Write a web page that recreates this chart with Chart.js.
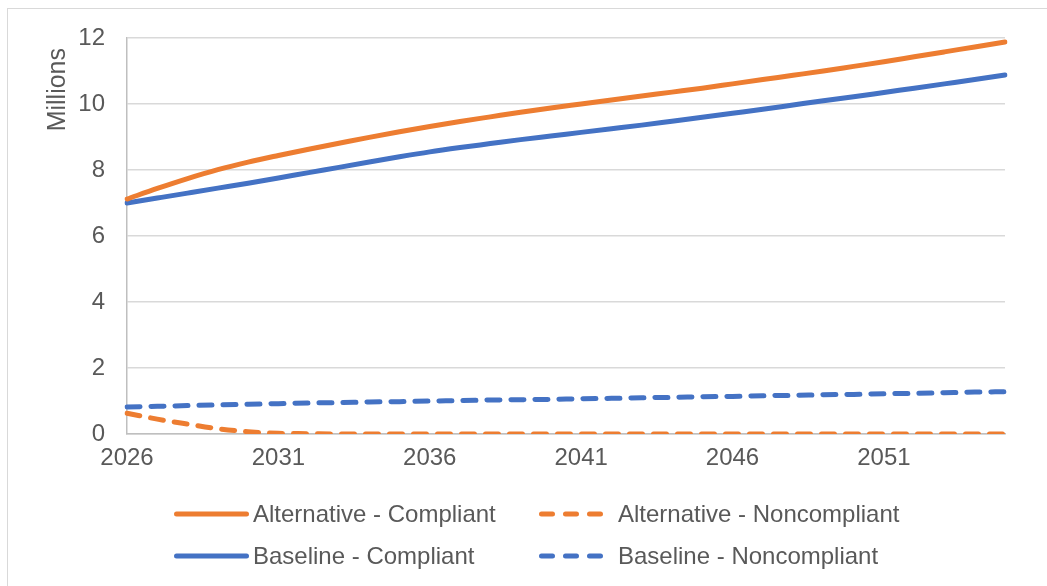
<!DOCTYPE html>
<html>
<head>
<meta charset="utf-8">
<script src="https://cdn.jsdelivr.net/npm/chart.js@4.4.1/dist/chart.umd.min.js"></script>
<style>
  html, body { margin: 0; padding: 0; background: #ffffff; overflow: hidden; }
  #wrap { position: relative; width: 1047px; height: 586px; }
  #frame { position: absolute; left: 7px; top: 8px; width: 1200px; height: 800px;
           border: 1.5px solid #d9d9d9; box-sizing: border-box; }
  #c { position: absolute; left: 0; top: 0; }
</style>
</head>
<body>
<div id="wrap">
  <div id="frame"></div>
  <canvas id="c" width="1047" height="586"></canvas>
</div>
<script>
// Projection years (category axis)
const years = [2026, 2027, 2028, 2029, 2030, 2031, 2032, 2033, 2034, 2035,
               2036, 2037, 2038, 2039, 2040, 2041, 2042, 2043, 2044, 2045,
               2046, 2047, 2048, 2049, 2050, 2051, 2052, 2053, 2054, 2055];

// Values in millions
const altCompliant = [7.12, 7.44, 7.74, 8.01, 8.24, 8.44, 8.63, 8.81, 8.99, 9.16,
                      9.32, 9.47, 9.61, 9.75, 9.88, 10.00, 10.12, 10.24, 10.36, 10.48,
                      10.61, 10.74, 10.87, 11.00, 11.14, 11.28, 11.43, 11.58, 11.73, 11.88];
const altNoncompliant = [0.63, 0.45, 0.30, 0.16, 0.07, 0.02, 0.01, 0, 0, 0,
                         0, 0, 0, 0, 0, 0, 0, 0, 0, 0,
                         0, 0, 0, 0, 0, 0, 0, 0, 0, 0];
const baseCompliant = [7.00, 7.15, 7.30, 7.45, 7.60, 7.76, 7.92, 8.08, 8.24, 8.40,
                       8.55, 8.68, 8.80, 8.92, 9.03, 9.14, 9.25, 9.36, 9.48, 9.60,
                       9.72, 9.84, 9.97, 10.10, 10.22, 10.35, 10.48, 10.61, 10.74, 10.88];
const baseNoncompliant = [0.82, 0.84, 0.86, 0.88, 0.90, 0.92, 0.94, 0.95, 0.97, 0.98,
                          1.00, 1.01, 1.03, 1.04, 1.05, 1.07, 1.08, 1.10, 1.11, 1.13,
                          1.14, 1.16, 1.17, 1.19, 1.20, 1.22, 1.23, 1.25, 1.27, 1.28];

const seriesNames = ['Alternative - Compliant', 'Alternative - Noncompliant',
                     'Baseline - Compliant', 'Baseline - Noncompliant'];
const unitLabel = 'Millions';

const ORANGE = '#ED7D31';
const BLUE = '#4472C4';
const TEXT = '#595959';
const FONT = '"Liberation Sans", Arial, sans-serif';
const DASH = [13, 11];

function lineSet(label, data, color, dashed) {
  return {
    label, data,
    borderColor: color,
    backgroundColor: color,
    borderWidth: 5,
    borderDash: dashed ? DASH : [],
    borderCapStyle: 'round',
    borderJoinStyle: 'round',
    cubicInterpolationMode: 'monotone',
    pointRadius: 0,
    pointHoverRadius: 0,
    fill: false
  };
}

// Two-column legend under the plot, drawn from the dataset styles
const gridLegend = {
  id: 'gridLegend',
  afterDraw(chart, args, opts) {
    const ctx = chart.ctx;
    const ds = chart.data.datasets;
    ctx.save();
    ctx.font = opts.fontSize + 'px ' + FONT;
    ctx.fillStyle = TEXT;
    ctx.textBaseline = 'middle';
    ctx.textAlign = 'left';
    ds.forEach((d, i) => {
      const col = i % 2, row = Math.floor(i / 2);
      const x = opts.colX[col], y = opts.rowY[row];
      ctx.save();
      ctx.strokeStyle = d.borderColor;
      ctx.lineWidth = d.borderWidth;
      ctx.lineCap = 'round';
      ctx.setLineDash(d.borderDash.length ? opts.dash : []);
      ctx.beginPath();
      ctx.moveTo(x + 2.5, y);
      ctx.lineTo(x + opts.lineLen - 2.5, y);
      ctx.stroke();
      ctx.restore();
      ctx.fillText(d.label, x + opts.lineLen + opts.gap, y + 1);
    });
    ctx.restore();
  }
};

// Rotated unit label placed near the top of the value axis
const unitTitle = {
  id: 'unitTitle',
  afterDraw(chart, args, opts) {
    const ctx = chart.ctx;
    ctx.save();
    ctx.translate(opts.x, opts.top);
    ctx.rotate(-Math.PI / 2);
    ctx.font = opts.fontSize + 'px ' + FONT;
    ctx.fillStyle = TEXT;
    ctx.textAlign = 'right';
    ctx.textBaseline = 'middle';
    ctx.fillText(opts.text, 0, 0);
    ctx.restore();
  }
};

new Chart(document.getElementById('c'), {
  type: 'line',
  data: {
    labels: years,
    datasets: [
      lineSet(seriesNames[0], altCompliant, ORANGE, false),
      lineSet(seriesNames[1], altNoncompliant, ORANGE, true),
      lineSet(seriesNames[2], baseCompliant, BLUE, false),
      lineSet(seriesNames[3], baseNoncompliant, BLUE, true)
    ]
  },
  options: {
    responsive: false,
    animation: false,
    devicePixelRatio: 1,
    events: [],
    layout: { padding: { left: 0, top: 38, right: 42, bottom: 102 } },
    plugins: {
      legend: { display: false },
      tooltip: { enabled: false },
      gridLegend: { colX: [174, 539], rowY: [514, 556], lineLen: 75, gap: 4, fontSize: 24, dash: [11, 13] },
      unitTitle: { text: unitLabel, x: 58, top: 48, fontSize: 25 }
    },
    scales: {
      x: {
        type: 'category',
        offset: false,
        afterFit(s) { s.height = 50; },
        grid: { display: false, drawTicks: false },
        border: { display: true, color: '#bfbfbf', width: 1.5 },
        ticks: {
          autoSkip: false,
          maxRotation: 0,
          padding: 10,
          color: TEXT,
          font: { family: FONT, size: 24 },
          callback(value, index) { return index % 5 === 0 ? years[index] : null; }
        }
      },
      y: {
        min: 0,
        max: 12,
        afterFit(s) { s.width = 127; },
        grid: { color: '#d9d9d9', lineWidth: 1.5, drawTicks: false },
        border: { display: true, color: '#bfbfbf', width: 1.5 },
        ticks: {
          stepSize: 2,
          padding: 22,
          color: TEXT,
          font: { family: FONT, size: 24 }
        }
      }
    }
  },
  plugins: [gridLegend, unitTitle]
});
</script>
</body>
</html>
